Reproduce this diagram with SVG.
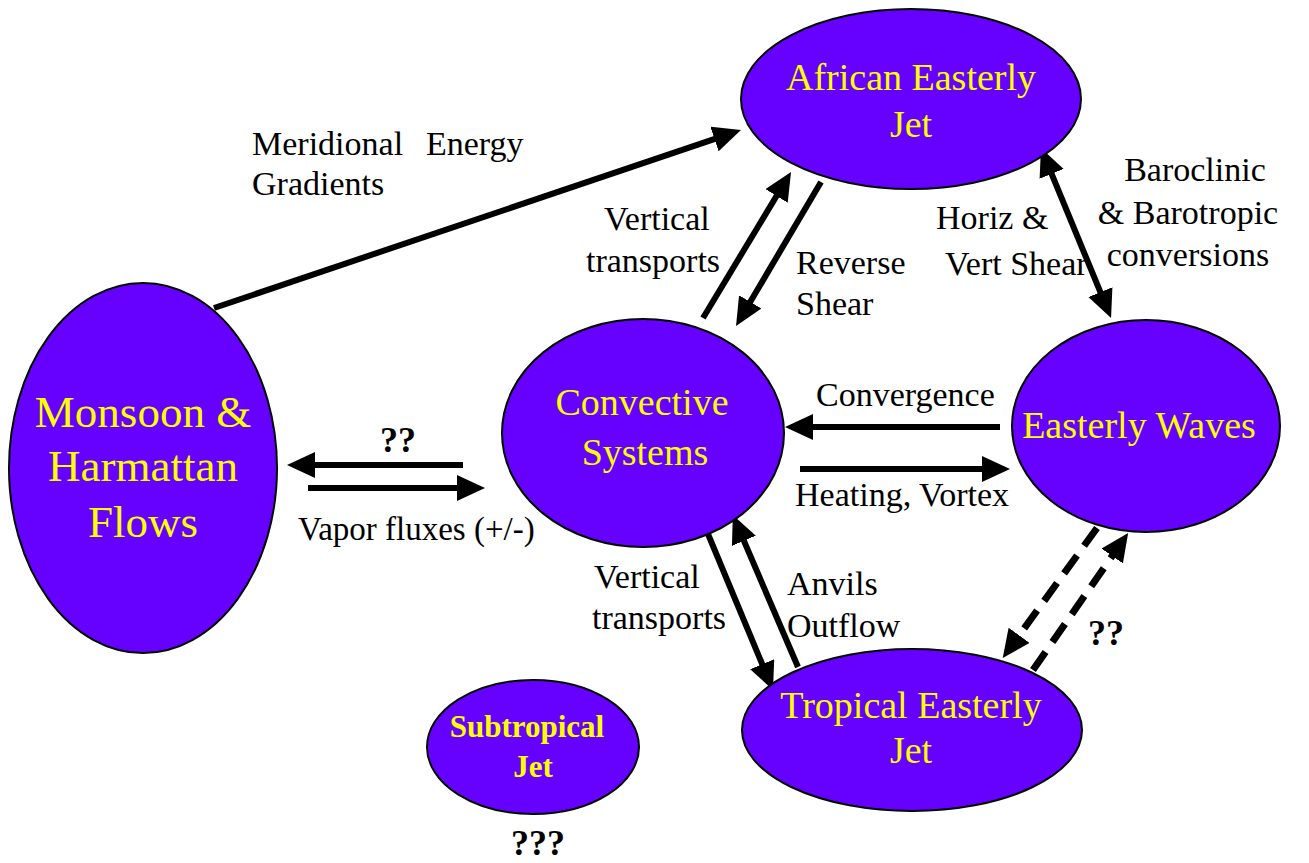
<svg xmlns="http://www.w3.org/2000/svg" width="1309" height="863" viewBox="0 0 1309 863">
<style>
.node{fill:#6600FF;stroke:#000;stroke-width:2}
.c{stroke:#000;stroke-width:6;fill:none}
.d{stroke:#000;stroke-width:7;fill:none;stroke-dasharray:22 12}
</style>
<defs>
<marker id="ah" markerUnits="userSpaceOnUse" markerWidth="30" markerHeight="28" refX="20" refY="13" orient="auto-start-reverse">
<path d="M0,0 L28,13 L0,26 z" fill="#000"/>
</marker>
</defs>
<rect width="1309" height="863" fill="#fff"/>
<g id="connectors">
<line class="c" x1="214" y1="308" x2="733.4" y2="132.6" marker-end="url(#ah)"/>
<line class="c" x1="463" y1="465" x2="295" y2="465" marker-end="url(#ah)"/>
<line class="c" x1="308" y1="488" x2="477" y2="488" marker-end="url(#ah)"/>
<line class="c" x1="1000" y1="427" x2="793" y2="427" marker-end="url(#ah)"/>
<line class="c" x1="800" y1="469" x2="1002" y2="469" marker-end="url(#ah)"/>
<line class="c" x1="703" y1="318" x2="786.9" y2="178.8" marker-end="url(#ah)"/>
<line class="c" x1="821" y1="182" x2="740.1" y2="319.1" marker-end="url(#ah)"/>
<line class="c" x1="1044" y1="155.4" x2="1108" y2="310.6" marker-start="url(#ah)" marker-end="url(#ah)"/>
<line class="c" x1="703" y1="522" x2="769.9" y2="682.6" marker-end="url(#ah)"/>
<line class="c" x1="798" y1="667" x2="736" y2="522.4" marker-end="url(#ah)"/>
<line class="d" x1="1097" y1="528" x2="1007.4" y2="651.5" marker-end="url(#ah)"/>
<line class="d" x1="1033" y1="670" x2="1123.6" y2="539.6" marker-end="url(#ah)"/>
</g>
<g id="labels">
<text style="font-family:'Liberation Serif',serif;font-size:34px" x="252" y="155">Meridional<tspan x="426">Energy</tspan></text>
<text style="font-family:'Liberation Serif',serif;font-size:34px" x="252" y="195">Gradients</text>
<text style="font-family:'Liberation Serif',serif;font-size:34px" x="604" y="230">Vertical</text>
<text style="font-family:'Liberation Serif',serif;font-size:34px" x="586" y="272">transports</text>
<text style="font-family:'Liberation Serif',serif;font-size:34px" x="796" y="274">Reverse</text>
<text style="font-family:'Liberation Serif',serif;font-size:34px" x="796" y="315">Shear</text>
<text style="font-family:'Liberation Serif',serif;font-size:34px" x="936" y="229">Horiz &amp;</text>
<text style="font-family:'Liberation Serif',serif;font-size:34px" x="945" y="275">Vert Shear</text>
<text style="font-family:'Liberation Serif',serif;font-size:34px" x="1195" y="181" text-anchor="middle">Baroclinic</text>
<text style="font-family:'Liberation Serif',serif;font-size:34px" x="1188" y="224" text-anchor="middle">&amp; Barotropic</text>
<text style="font-family:'Liberation Serif',serif;font-size:34px" x="1188" y="266" text-anchor="middle">conversions</text>
<text style="font-family:'Liberation Serif',serif;font-size:36px;font-weight:bold" x="380" y="452">??</text>
<text style="font-family:'Liberation Serif',serif;font-size:33px" x="298" y="540">Vapor fluxes (+/-)</text>
<text style="font-family:'Liberation Serif',serif;font-size:34px" x="816" y="406">Convergence</text>
<text style="font-family:'Liberation Serif',serif;font-size:34px" x="795" y="506">Heating, Vortex</text>
<text style="font-family:'Liberation Serif',serif;font-size:34px" x="594" y="588">Vertical</text>
<text style="font-family:'Liberation Serif',serif;font-size:34px" x="592" y="629">transports</text>
<text style="font-family:'Liberation Serif',serif;font-size:34px" x="787" y="595">Anvils</text>
<text style="font-family:'Liberation Serif',serif;font-size:34px" x="787" y="637">Outflow</text>
<text style="font-family:'Liberation Serif',serif;font-size:36px;font-weight:bold" x="1088" y="645">??</text>
<text style="font-family:'Liberation Serif',serif;font-size:36px;font-weight:bold" x="511" y="855">???</text>
</g>
<g id="aej">
<ellipse class="node" cx="911" cy="99" rx="170" ry="90"/>
<text style="font-family:'Liberation Serif',serif;font-size:38px;fill:#FFFF00" text-anchor="middle" x="911" y="90">African Easterly</text>
<text style="font-family:'Liberation Serif',serif;font-size:38px;fill:#FFFF00" text-anchor="middle" x="911" y="137">Jet</text>
</g>
<g id="monsoon">
<ellipse class="node" cx="143" cy="468" rx="134" ry="185"/>
<text style="font-family:'Liberation Serif',serif;font-size:45px;fill:#FFFF00" text-anchor="middle" x="143" y="427">Monsoon &amp;</text>
<text style="font-family:'Liberation Serif',serif;font-size:45px;fill:#FFFF00" text-anchor="middle" x="143" y="481">Harmattan</text>
<text style="font-family:'Liberation Serif',serif;font-size:45px;fill:#FFFF00" text-anchor="middle" x="143" y="537">Flows</text>
</g>
<g id="convective">
<ellipse class="node" cx="643" cy="433" rx="141" ry="114"/>
<text style="font-family:'Liberation Serif',serif;font-size:38px;fill:#FFFF00" text-anchor="middle" x="642" y="415">Convective</text>
<text style="font-family:'Liberation Serif',serif;font-size:38px;fill:#FFFF00" text-anchor="middle" x="645" y="465">Systems</text>
</g>
<g id="waves">
<ellipse class="node" cx="1146" cy="426" rx="134" ry="106"/>
<text style="font-family:'Liberation Serif',serif;font-size:38px;fill:#FFFF00" text-anchor="middle" x="1139" y="438">Easterly Waves</text>
</g>
<g id="tej">
<ellipse class="node" cx="912" cy="730" rx="170" ry="81"/>
<text style="font-family:'Liberation Serif',serif;font-size:38px;fill:#FFFF00" text-anchor="middle" x="911" y="718">Tropical Easterly</text>
<text style="font-family:'Liberation Serif',serif;font-size:38px;fill:#FFFF00" text-anchor="middle" x="911" y="763">Jet</text>
</g>
<g id="subtropical">
<ellipse class="node" cx="533" cy="747" rx="106" ry="67"/>
<text style="font-family:'Liberation Serif',serif;font-size:31px;font-weight:bold;fill:#FFFF00" text-anchor="middle" x="527" y="737">Subtropical</text>
<text style="font-family:'Liberation Serif',serif;font-size:31px;font-weight:bold;fill:#FFFF00" text-anchor="middle" x="533" y="777">Jet</text>
</g>
</svg>
